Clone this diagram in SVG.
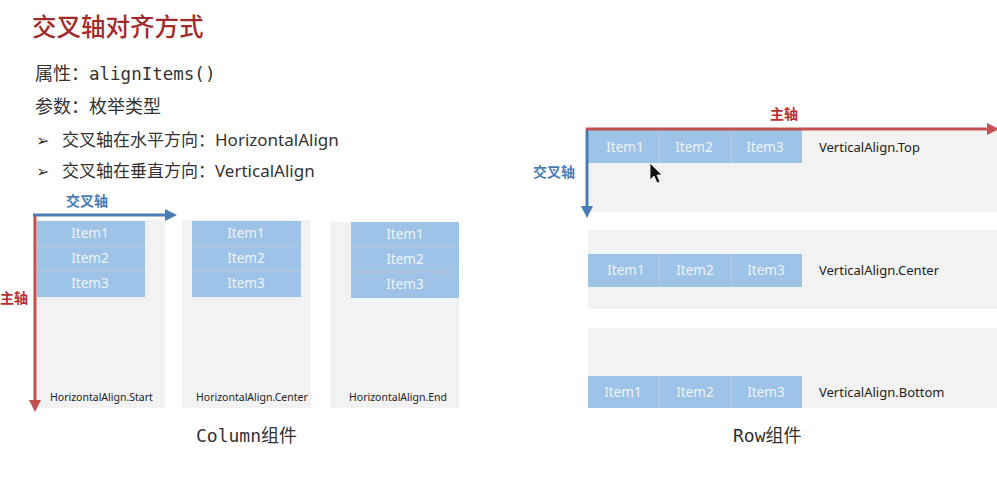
<svg xmlns="http://www.w3.org/2000/svg" width="997" height="481" viewBox="0 0 997 481">
<defs>
<style>
.title{font-family:"Noto Sans CJK SC","Noto Sans",sans-serif;font-size:24.5px;fill:#a32a2a;font-weight:500}
.body{font-family:"Noto Sans CJK SC",sans-serif;font-size:18px;fill:#333}
.mono{font-family:"DejaVu Sans Mono","Noto Sans CJK SC",monospace;font-size:17.5px;fill:#333}
.cap{font-family:"DejaVu Sans Mono","Noto Sans CJK SC",monospace;font-size:18px;fill:#333}
.bul{font-family:"Noto Sans","Noto Sans CJK SC",sans-serif;font-size:17px;fill:#333}
.chev{font-family:"DejaVu Sans",sans-serif;font-size:16px;fill:#333}
.panel{fill:#f2f2f2}
.item{fill:#9dc3e6}
.sep{stroke:#b8cadb;stroke-width:1}
.itxt{font-family:"Noto Sans",sans-serif;font-size:13.5px;fill:#eef4fa;text-anchor:middle}
.lbl{font-family:"Noto Sans",sans-serif;font-size:10.5px;fill:#222}
.rlbl{font-family:"Noto Sans",sans-serif;font-size:13px;fill:#222}
.blue{stroke:#4a7db5;stroke-width:3;fill:none}
.red{stroke:#c55050;stroke-width:3;fill:none}
.bt{font-family:"Noto Sans CJK SC",sans-serif;font-size:14px;fill:#4a7db5;font-weight:bold}
.rt{font-family:"Noto Sans CJK SC",sans-serif;font-size:14px;fill:#b83030;font-weight:bold}
</style>
<marker id="ab" markerWidth="4" markerHeight="4" refX="1" refY="2" orient="auto" markerUnits="strokeWidth"><path d="M0,0 L4,2 L0,4 Z" fill="#4a7db5"/></marker>
<marker id="ar" markerWidth="4" markerHeight="4" refX="1" refY="2" orient="auto" markerUnits="strokeWidth"><path d="M0,0 L4,2 L0,4 Z" fill="#c55050"/></marker>
</defs>
<rect width="997" height="481" fill="#fff"/>
<g id="header">
<text class="title" x="32" y="36">交叉轴对齐方式</text>
<text x="35" y="80"><tspan class="body">属性：</tspan><tspan class="mono">alignItems()</tspan></text>
<text class="body" x="35" y="113">参数：枚举类型</text>
<text class="chev" x="36" y="146">➢</text>
<text class="bul" x="62" y="146">交叉轴在水平方向：HorizontalAlign</text>
<text class="chev" x="36" y="177">➢</text>
<text class="bul" x="62" y="177">交叉轴在垂直方向：VerticalAlign</text>
</g>
<g id="col-start">
<rect class="panel" x="33" y="220" width="132" height="188"/>
<rect class="item" x="37" y="221" width="108" height="76"/>
<line class="sep" x1="37" y1="246" x2="145" y2="246"/><line class="sep" x1="37" y1="271" x2="145" y2="271"/>
<text class="itxt" x="90" y="238">Item1</text><text class="itxt" x="90" y="263">Item2</text><text class="itxt" x="90" y="288">Item3</text>
<text class="lbl" x="50" y="401">HorizontalAlign.Start</text>
</g>
<g id="col-center">
<rect class="panel" x="182" y="220" width="129" height="188"/>
<rect class="item" x="192" y="221" width="109" height="76"/>
<line class="sep" x1="192" y1="246" x2="301" y2="246"/><line class="sep" x1="192" y1="271" x2="301" y2="271"/>
<text class="itxt" x="246" y="238">Item1</text><text class="itxt" x="246" y="263">Item2</text><text class="itxt" x="246" y="288">Item3</text>
<text class="lbl" x="196" y="401">HorizontalAlign.Center</text>
</g>
<g id="col-end">
<rect class="panel" x="330" y="222" width="129" height="186"/>
<rect class="item" x="351" y="222" width="108" height="76"/>
<line class="sep" x1="351" y1="247" x2="459" y2="247"/><line class="sep" x1="351" y1="272" x2="459" y2="272"/>
<text class="itxt" x="405" y="239">Item1</text><text class="itxt" x="405" y="264">Item2</text><text class="itxt" x="405" y="289">Item3</text>
<text class="lbl" x="349" y="401">HorizontalAlign.End</text>
</g>
<g id="row-top">
<rect class="panel" x="587" y="128" width="410" height="84"/>
<rect class="item" x="587" y="130" width="215" height="33"/>
<line class="sep" x1="659" y1="130" x2="659" y2="163"/><line class="sep" x1="731" y1="130" x2="731" y2="163"/>
<text class="itxt" x="625" y="152">Item1</text><text class="itxt" x="694" y="152">Item2</text><text class="itxt" x="765" y="152">Item3</text>
<text class="rlbl" x="819" y="152">VerticalAlign.Top</text>
</g>
<g id="row-center">
<rect class="panel" x="588" y="230" width="409" height="79"/>
<rect class="item" x="588" y="254" width="214" height="33"/>
<line class="sep" x1="659" y1="254" x2="659" y2="287"/><line class="sep" x1="731" y1="254" x2="731" y2="287"/>
<text class="itxt" x="626" y="275">Item1</text><text class="itxt" x="695" y="275">Item2</text><text class="itxt" x="766" y="275">Item3</text>
<text class="rlbl" x="819" y="275">VerticalAlign.Center</text>
</g>
<g id="row-bottom">
<rect class="panel" x="588" y="328" width="409" height="80"/>
<rect class="item" x="588" y="376" width="214" height="32"/>
<line class="sep" x1="659" y1="376" x2="659" y2="408"/><line class="sep" x1="731" y1="376" x2="731" y2="408"/>
<text class="itxt" x="623" y="397">Item1</text><text class="itxt" x="695" y="397">Item2</text><text class="itxt" x="766" y="397">Item3</text>
<text class="rlbl" x="819" y="397">VerticalAlign.Bottom</text>
</g>
<g id="connectors">
<line class="red" x1="35" y1="214" x2="35" y2="403" marker-end="url(#ar)"/>
<line class="blue" x1="33" y1="215" x2="168" y2="215" marker-end="url(#ab)"/>
<line class="blue" x1="587" y1="129" x2="587" y2="209" marker-end="url(#ab)"/>
<line class="red" x1="586" y1="129" x2="990" y2="129" marker-end="url(#ar)"/>
</g>
<g id="axis-labels">
<text class="bt" x="66" y="206">交叉轴</text>
<text class="rt" x="0" y="303">主轴</text>
<text class="rt" x="770" y="119">主轴</text>
<text class="bt" x="533" y="177">交叉轴</text>
</g>
<g id="cursor">
<path d="M650,163 L650,180 L654,176 L657,183 L660,182 L657,175 L662,175 Z" fill="#111" stroke="#fff" stroke-width="0.8"/>
</g>
<g id="captions">
<text class="cap" x="196" y="442">Column组件</text>
<text class="cap" x="733" y="442">Row组件</text>
</g>
</svg>
